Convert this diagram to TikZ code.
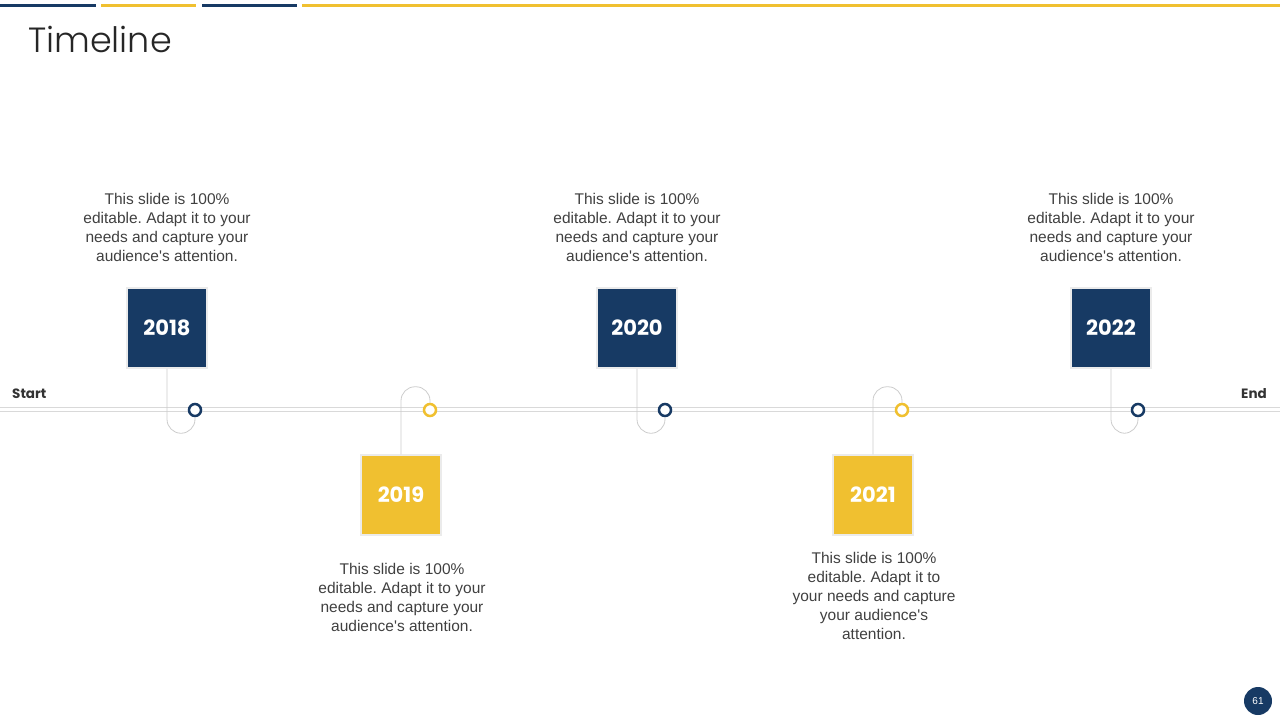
\documentclass[tikz,border=0pt]{standalone}
\usepackage{fontspec}
\setmainfont{Liberation Sans}
\IfFontExistsTF{Poppins Light}{\newfontfamily\titlefont{Poppins Light}}{\newfontfamily\titlefont{Poppins}}
\newfontfamily\yearfont{Poppins}
\definecolor{navy}{HTML}{173A64}
\definecolor{gold}{HTML}{F0C030}
\definecolor{bodytext}{HTML}{404040}
\frenchspacing
\tikzset{
  yearbox/.style={minimum size=80pt, inner sep=0pt, draw=black!8, line width=1.5pt,
    text=white, font=\yearfont\bfseries\fontsize{21}{21}\selectfont},
  dot/.style={circle, minimum size=12pt, inner sep=0pt, line width=2.5pt, fill=white},
  blurb/.style={align=center, text=bodytext, font=\fontsize{15.5}{19}\selectfont, inner sep=0pt},
  hook/.style={draw=black!20, line width=0.8pt, rounded corners=14pt},
}
\begin{document}
\begin{tikzpicture}[x=1pt,y=-1pt]
                \useasboundingbox (0,0) rectangle (1280,720);
                % Draw the coloured bars along the top edge
                \foreach \xa/\xb/\col in {0/96/navy, 101/196/gold, 202/297/navy, 302/1280/gold} {
                \draw[\col, line width=3pt] (\xa,5) -- (\xb,5);
                }
                \node[anchor=base west, inner sep=0pt, text=black!85,
                font=\titlefont\fontsize{35}{35}\selectfont] (title) at (28,52) {Timeline};

                % Draw the double time axis
                \draw[black!15, line width=1pt] (0,407) -- (1280,407);
                \draw[black!15, line width=1pt] (0,411) -- (1280,411);
                \node[anchor=base west, inner sep=0pt, text=black!80,
                font=\yearfont\bfseries\fontsize{13.5}{13.5}\selectfont] (start) at (12,398) {Start};
                \node[anchor=base east, inner sep=0pt, text=black!80,
                font=\yearfont\bfseries\fontsize{13.5}{13.5}\selectfont] (end) at (1267,398) {End};

                % Years above the axis
                \foreach \yr/\bx/\cx in {2018/167/195, 2020/637/665, 2022/1111/1138} {
                \node[yearbox, fill=navy] (b\yr) at (\bx,328) {\yr};
                \node[dot, draw=navy] (c\yr) at (\cx,410) {};
                \draw[hook] (b\yr.south) |- ([yshift=-16pt]c\yr.south) -- (c\yr.south);
                \node[blurb] (t\yr) at (\bx,227) {This slide is 100\%\\editable. Adapt it to your\\needs and capture your\\audience\textquotesingle s attention.};
                }

                % Years below the axis
                \foreach \yr/\bx/\cx in {2019/401/430, 2021/873/902} {
                \node[yearbox, fill=gold] (b\yr) at (\bx,495) {\yr};
                \node[dot, draw=gold] (c\yr) at (\cx,410) {};
                \draw[hook] (b\yr.north) |- ([yshift=16pt]c\yr.north) -- (c\yr.north);
                }
                \node[blurb] (t2019) at (402,597) {This slide is 100\%\\editable. Adapt it to your\\needs and capture your\\audience\textquotesingle s attention.};
                \node[blurb] (t2021) at (874,596) {This slide is 100\%\\editable. Adapt it to\\your needs and capture\\your audience\textquotesingle s\\attention.};

                %Draw the page number
                \node[circle, fill=navy, minimum size=28pt, inner sep=0pt, text=white,
                font=\fontsize{10}{10}\selectfont] (page) at (1258,701) {61};

            \end{tikzpicture}
\end{document}
